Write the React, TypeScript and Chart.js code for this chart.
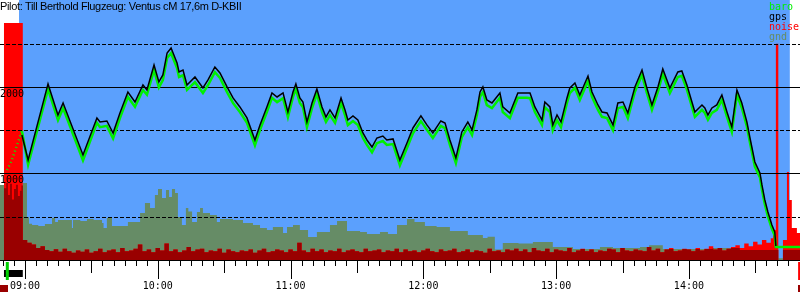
import React, { useEffect, useRef } from "react";
import { Chart, registerables } from "chart.js";
Chart.register(...registerables);

const TITLE = "Pilot: Till Berthold Flugzeug: Ventus cM 17,6m D-KBII";
const SKY = "#5ba0fd";
const BARO_COLOR = "#00f000";
const GPS_COLOR = "#000000";
const NOISE_COLOR = "#ff0000";
const NOISE_DARK = "#990000";
const GND_COLOR = "#668c66";
const LEGEND = [
  { label: "baro", color: BARO_COLOR },
  { label: "gps", color: GPS_COLOR },
  { label: "noise", color: NOISE_COLOR },
  { label: "gnd", color: GND_COLOR },
];

// time in minutes since midnight
const timeMin = 528.7;
const timeMax = 890.2;
const altMax = 3005;
const hourTicks = [540, 600, 660, 720, 780, 840];
const gridSolid = [1000, 2000];
const gridDashed = [500, 1500, 2500];
const flightStart = 537.3;
const flightEnd = 885.6;
const engineStart = 530.5;
const engineStop = 539.0;
const takeoffTime = 532.0;
const logEnd = 889.8;
const launchEnd = 538.6;

const gpsTime = [538.6,541.4,550.4,554.9,557.2,566.2,572.5,573.9,577.0,579.8,582.9,586.5,589.7,593.3,595.1,598.3,600.5,602.3,604.2,606.0,608.7,609.6,611.4,613.2,616.8,620.4,622.7,625.8,628.1,631.3,634.0,637.1,640.3,643.9,646.2,649.3,651.6,653.9,656.6,658.8,661.1,662.4,664.2,665.6,667.4,669.7,671.9,674.2,676.0,677.8,680.1,682.8,684.6,685.9,688.2,690.4,692.7,694.5,696.8,699.0,701.7,703.5,706.3,709.4,712.6,715.3,718.9,721.6,724.3,727.9,729.8,732.0,734.7,737.4,740.1,742.0,744.2,745.6,746.9,748.7,751.0,754.6,755.9,759.1,762.7,766.8,768.2,770.4,773.6,774.9,777.2,778.5,780.4,782.2,784.9,786.2,788.5,790.7,794.4,796.2,798.9,800.7,803.0,805.7,807.9,810.2,812.4,815.6,818.8,821.0,823.3,826.0,828.2,831.4,835.0,836.8,839.1,842.7,845.9,847.2,848.6,850.4,852.6,854.9,857.2,859.4,861.7,863.9,866.2,867.6,869.8,872.1,873.0,874.3,875.7,877.5,878.8,879.3];
const gpsAlt = [1445,1156,2035,1676,1815,1214,1642,1595,1607,1468,1699,1942,1826,2023,1965,2254,2058,2139,2393,2451,2277,2173,2196,2023,2115,1988,2081,2231,2162,2000,1873,1769,1642,1387,1561,1769,1931,1884,1931,1711,1942,2035,1873,1826,1595,1815,1977,1769,1653,1734,1642,1873,1734,1618,1665,1618,1468,1387,1306,1410,1433,1387,1399,1156,1353,1526,1665,1561,1468,1607,1584,1387,1179,1480,1595,1503,1734,1942,2000,1850,1815,1931,1769,1699,1931,1931,1931,1769,1618,1826,1769,1561,1676,1595,1873,1988,2046,1907,2127,1942,1792,1711,1699,1561,1815,1826,1699,2000,2196,1988,1792,2000,2208,1988,2173,2185,2023,1711,1792,1757,1676,1757,1792,1907,1711,1537,1965,1815,1595,1410,1133,1006,867,694,555,405,324,162];

const baroTime = [531.9,534.1,536.4,538.6,541.4,550.4,554.9,557.2,566.2,572.5,573.9,577.0,579.8,582.9,586.5,589.7,593.3,595.1,598.3,600.5,602.3,604.2,606.0,608.7,609.6,611.4,613.2,616.8,620.4,622.7,625.8,628.1,631.3,634.0,637.1,640.3,643.9,646.2,649.3,651.6,653.9,656.6,658.8,661.1,662.4,664.2,665.6,667.4,669.7,671.9,674.2,676.0,677.8,680.1,682.8,684.6,685.9,688.2,690.4,692.7,694.5,696.8,699.0,701.7,703.5,706.3,709.4,712.6,715.3,718.9,721.6,724.3,727.9,729.8,732.0,734.7,737.4,740.1,742.0,744.2,745.6,746.9,748.7,751.0,754.6,755.9,759.1,762.7,766.8,768.2,770.4,773.6,774.9,777.2,778.5,780.4,782.2,784.9,786.2,788.5,790.7,794.4,796.2,798.9,800.7,803.0,805.7,807.9,810.2,812.4,815.6,818.8,821.0,823.3,826.0,828.2,831.4,835.0,836.8,839.1,842.7,845.9,847.2,848.6,850.4,852.6,854.9,857.2,859.4,861.7,863.9,866.2,867.6,869.8,872.1,873.0,874.3,875.7,877.5,878.8,879.3,890.2];
const baroAlt = [1040,1156,1330,1490,1100,1975,1615,1755,1150,1585,1535,1550,1405,1640,1885,1770,1965,1910,2195,1995,2080,2335,2390,2220,2115,2135,1965,2055,1930,2020,2170,2105,1940,1815,1710,1585,1325,1505,1710,1875,1825,1870,1650,1885,1975,1815,1765,1535,1755,1920,1710,1595,1675,1585,1815,1675,1560,1605,1560,1410,1330,1245,1350,1375,1330,1340,1095,1295,1465,1605,1505,1410,1550,1525,1330,1120,1420,1535,1445,1675,1885,1940,1790,1755,1875,1710,1640,1875,1875,1870,1710,1560,1765,1710,1500,1615,1535,1815,1930,1990,1850,2070,1885,1735,1655,1640,1500,1755,1770,1640,1945,2140,1930,1735,1945,2150,1930,2115,2130,1970,1655,1735,1700,1620,1700,1735,1850,1655,1480,1910,1760,1540,1355,1080,955,815,645,505,360,280,150,150];

const gndTime = [528.7,530.5,531.5,532.3,533.2,534.1,535.0,535.9,536.8,537.7,538.4,539.1,540.9,541.8,543.2,546,549,552.2,553.6,554.9,561.2,561.7,565,568,571,574.8,575.5,577.0,579.3,586.5,592.0,594.2,596.5,598.7,600.1,601.9,603.7,605.1,606.4,607.8,609.1,610.9,612.7,613.8,615.5,617.7,619.1,620.4,623.6,626.7,628.1,634.0,638.5,643.0,646.2,649.3,652.0,656.6,658.4,661.1,664.2,667.9,671.9,677.8,681.0,685.5,691.4,694.5,700.4,704.0,708.1,712.6,716.0,720.7,726.0,732.0,740.1,746.9,749.0,752.3,755.9,763.0,769.5,778.5,787.6,799.8,805.7,817.9,822.0,828.2,850.8,863.0,873.4,880.4,882.5,890.2];
const gndAlt = [867,830,890,750,880,700,820,870,740,800,860,890,497,420,405,393,416,486,439,462,370,462,451,474,462,428,370,486,393,439,543,659,601,751,821,717,809,728,821,775,497,405,601,560,439,555,601,543,520,439,474,462,428,405,370,347,381,312,381,405,347,266,324,405,451,335,324,301,324,300,405,474,440,393,380,335,289,254,270,120,197,190,208,150,127,150,139,150,170,127,139,116,116,20,116,116];

const noiseHeadTime = [528.7, 530.5];
const noiseHeadVal = [0, 2740];
const noiseBandStart = 539;
const noiseBandStep = 2;
const noiseBand = [
  230,200,180,140,160,115,100,125,95,130,
  100,85,110,95,120,85,100,130,90,110,
  120,90,140,100,110,130,180,100,120,90,
  140,110,190,100,120,90,110,150,100,120,
  130,90,110,100,130,85,120,100,90,110,
  100,120,85,110,130,90,100,120,110,90,
  120,100,200,110,90,130,100,120,90,110,
  100,130,90,110,120,100,90,130,100,110,
  120,90,110,100,130,90,120,100,110,90,
  110,130,100,90,120,100,110,130,90,100,
  120,90,110,100,85,130,100,110,90,120,
  110,130,100,120,90,140,110,100,130,90,
  120,110,100,140,90,110,130,100,120,90,
  110,100,130,120,90,140,110,100,120,110,
  100,150,110,130,90,120,140,100,110,130,
  120,100,140,110,130,160,120,140,110,130,
  150,170,140,190,160,210,180,230,200,
];
const noiseTailTime = [877, 878, 879.3, 880.4, 882.5, 884.3, 885.2, 886.5, 888.8, 890.2];
const noiseTailVal = [250, 347, 2500, 0, 231, 1017, 694, 370, 312, 312];

function stepAt(times: number[], vals: number[], t: number) {
  let v = 0;
  for (let i = 0; i < times.length; i++) {
    if (times[i] <= t + 1e-9) v = vals[i];
    else break;
  }
  return v;
}

function hhmm(v: number) {
  const h = Math.floor(v / 60);
  const m = Math.round(v - h * 60);
  return String(h).padStart(2, "0") + ":" + String(m).padStart(2, "0");
}

export default function App() {
  const ref = useRef<HTMLCanvasElement | null>(null);
  useEffect(() => {
    document.body.style.margin = "0";
    const noiseT: number[] = [...noiseHeadTime];
    const noiseV: number[] = [...noiseHeadVal];
    noiseBand.forEach((v, i) => {
      noiseT.push(noiseBandStart + i * noiseBandStep);
      noiseV.push(v);
    });
    noiseT.push(...noiseTailTime);
    noiseV.push(...noiseTailVal);

    const allT = Array.from(new Set([...noiseT, ...gndTime])).sort((a, b) => a - b);
    const dark = allT.map((t) => ({
      x: t,
      y: Math.min(stepAt(noiseT, noiseV, t), stepAt(gndTime, gndAlt, t)),
    }));

    const decor = {
      id: "decor",
      beforeDatasetsDraw(chart: any) {
        const { ctx, chartArea } = chart;
        const xs = chart.scales.x;
        const x0 = xs.getPixelForValue(flightStart);
        const x1 = xs.getPixelForValue(flightEnd);
        ctx.save();
        ctx.fillStyle = SKY;
        ctx.fillRect(x0, chartArea.top, x1 - x0, chartArea.bottom - chartArea.top);
        ctx.restore();
      },
      beforeDatasetDraw(chart: any, args: any) {
        if (args.index !== 1) return;
        const { ctx, chartArea } = chart;
        const ys = chart.scales.y;
        ctx.save();
        ctx.strokeStyle = "#000";
        ctx.lineWidth = 1;
        const line = (v: number, dash: number[]) => {
          const y = Math.round(ys.getPixelForValue(v)) + 0.5;
          ctx.setLineDash(dash);
          ctx.beginPath();
          ctx.moveTo(chartArea.left, y);
          ctx.lineTo(chartArea.right, y);
          ctx.stroke();
        };
        gridDashed.forEach((v) => line(v, [4, 2]));
        gridSolid.forEach((v) => line(v, []));
        ctx.setLineDash([]);
        ctx.fillStyle = "#000";
        ctx.font = '10px "DejaVu Sans Mono"';
        ctx.textBaseline = "top";
        ctx.textAlign = "left";
        gridSolid.forEach((v) => {
          const y = Math.round(ys.getPixelForValue(v));
          ctx.fillText(String(v), 0, y + 2);
        });
        ctx.restore();
      },
      afterDraw(chart: any) {
        const { ctx, chartArea } = chart;
        const xs = chart.scales.x;
        ctx.save();
        ctx.strokeStyle = "#000";
        ctx.lineWidth = 1;
        const base = chartArea.bottom;
        for (let t = 530; t <= 890; t += 5) {
          const len = t % 60 === 0 ? 19 : t % 30 === 0 ? 13 : 6;
          const x = Math.round(xs.getPixelForValue(t)) + 0.5;
          ctx.beginPath();
          ctx.moveTo(x, base);
          ctx.lineTo(x, base + len);
          ctx.stroke();
        }
        const pe0 = xs.getPixelForValue(engineStart);
        const pe1 = xs.getPixelForValue(engineStop);
        ctx.fillStyle = "#000";
        ctx.fillRect(pe0, base + 10, pe1 - pe0, 7);
        ctx.fillStyle = "#00d000";
        ctx.fillRect(xs.getPixelForValue(takeoffTime) - 1.5, base + 2, 3, 18);
        ctx.fillStyle = NOISE_COLOR;
        ctx.fillRect(xs.getPixelForValue(logEnd) - 1, base + 2, 3, 18);
        ctx.fillStyle = NOISE_DARK;
        ctx.fillRect(xs.getPixelForValue(timeMin), base + 25, 8, 7);
        ctx.fillRect(xs.getPixelForValue(timeMax) - 2, base + 25, 2, 7);
        ctx.fillStyle = "#000";
        ctx.font = '11px "Liberation Sans"';
        (ctx as any).letterSpacing = "-0.35px";
        ctx.textBaseline = "alphabetic";
        ctx.textAlign = "left";
        ctx.fillText(TITLE, 0, 10);
        (ctx as any).letterSpacing = "0px";
        ctx.font = '10px "DejaVu Sans Mono"';
        LEGEND.forEach((l, i) => {
          ctx.fillStyle = l.color;
          ctx.fillText(l.label, 769, 10 + i * 10);
        });
        ctx.restore();
      },
    };

    const chart = new Chart(ref.current as HTMLCanvasElement, {
      type: "line",
      data: {
        datasets: [
          {
            label: "gps",
            data: gpsTime.map((t, i) => ({ x: t, y: gpsAlt[i] })),
            borderColor: GPS_COLOR,
            borderWidth: 1.5,
            pointRadius: 0,
            tension: 0,
            order: 1,
          },
          {
            label: "baro",
            data: baroTime.map((t, i) => ({ x: t, y: baroAlt[i] })),
            borderColor: BARO_COLOR,
            borderWidth: 2.5,
            pointRadius: 0,
            tension: 0,
            order: 2,
            segment: {
              borderDash: (c: any) => (c.p1.parsed.x <= launchEnd ? [1, 3] : undefined),
            },
          },
          {
            label: "noiseDark",
            data: dark,
            borderWidth: 0,
            backgroundColor: NOISE_DARK,
            fill: "origin",
            stepped: true,
            pointRadius: 0,
            order: 3,
          },
          {
            label: "noise",
            data: noiseT.map((t, i) => ({ x: t, y: noiseV[i] })),
            borderWidth: 0,
            backgroundColor: NOISE_COLOR,
            fill: "origin",
            stepped: true,
            pointRadius: 0,
            order: 4,
          },
          {
            label: "gnd",
            data: gndTime.map((t, i) => ({ x: t, y: gndAlt[i] })),
            borderWidth: 0,
            backgroundColor: GND_COLOR,
            fill: "origin",
            stepped: true,
            pointRadius: 0,
            order: 5,
          },
        ],
      },
      options: {
        responsive: false,
        animation: false,
        layout: { padding: 0 },
        plugins: { legend: { display: false }, tooltip: { enabled: false }, title: { display: false } },
        scales: {
          x: {
            type: "linear",
            position: "bottom",
            min: timeMin,
            max: timeMax,
            afterBuildTicks: (s: any) => {
              s.ticks = hourTicks.map((v) => ({ value: v }));
            },
            afterFit: (s: any) => {
              s.height = 40;
              s.paddingLeft = 0;
              s.paddingRight = 0;
            },
            grid: { display: false, drawTicks: false },
            border: { display: true, color: "#000", width: 1 },
            ticks: {
              autoSkip: false,
              maxRotation: 0,
              padding: 20,
              color: "#000",
              font: { family: "DejaVu Sans Mono", size: 10 },
              callback: (v: any) => hhmm(Number(v)),
            },
          },
          y: {
            type: "linear",
            display: false,
            min: 0,
            max: altMax,
          },
        },
      },
      plugins: [decor],
    } as any);
    return () => chart.destroy();
  }, []);
  return (
    <div style={{ width: 800, height: 300 }}>
      <canvas ref={ref} width={800} height={300} style={{ display: "block" }} />
    </div>
  );
}
